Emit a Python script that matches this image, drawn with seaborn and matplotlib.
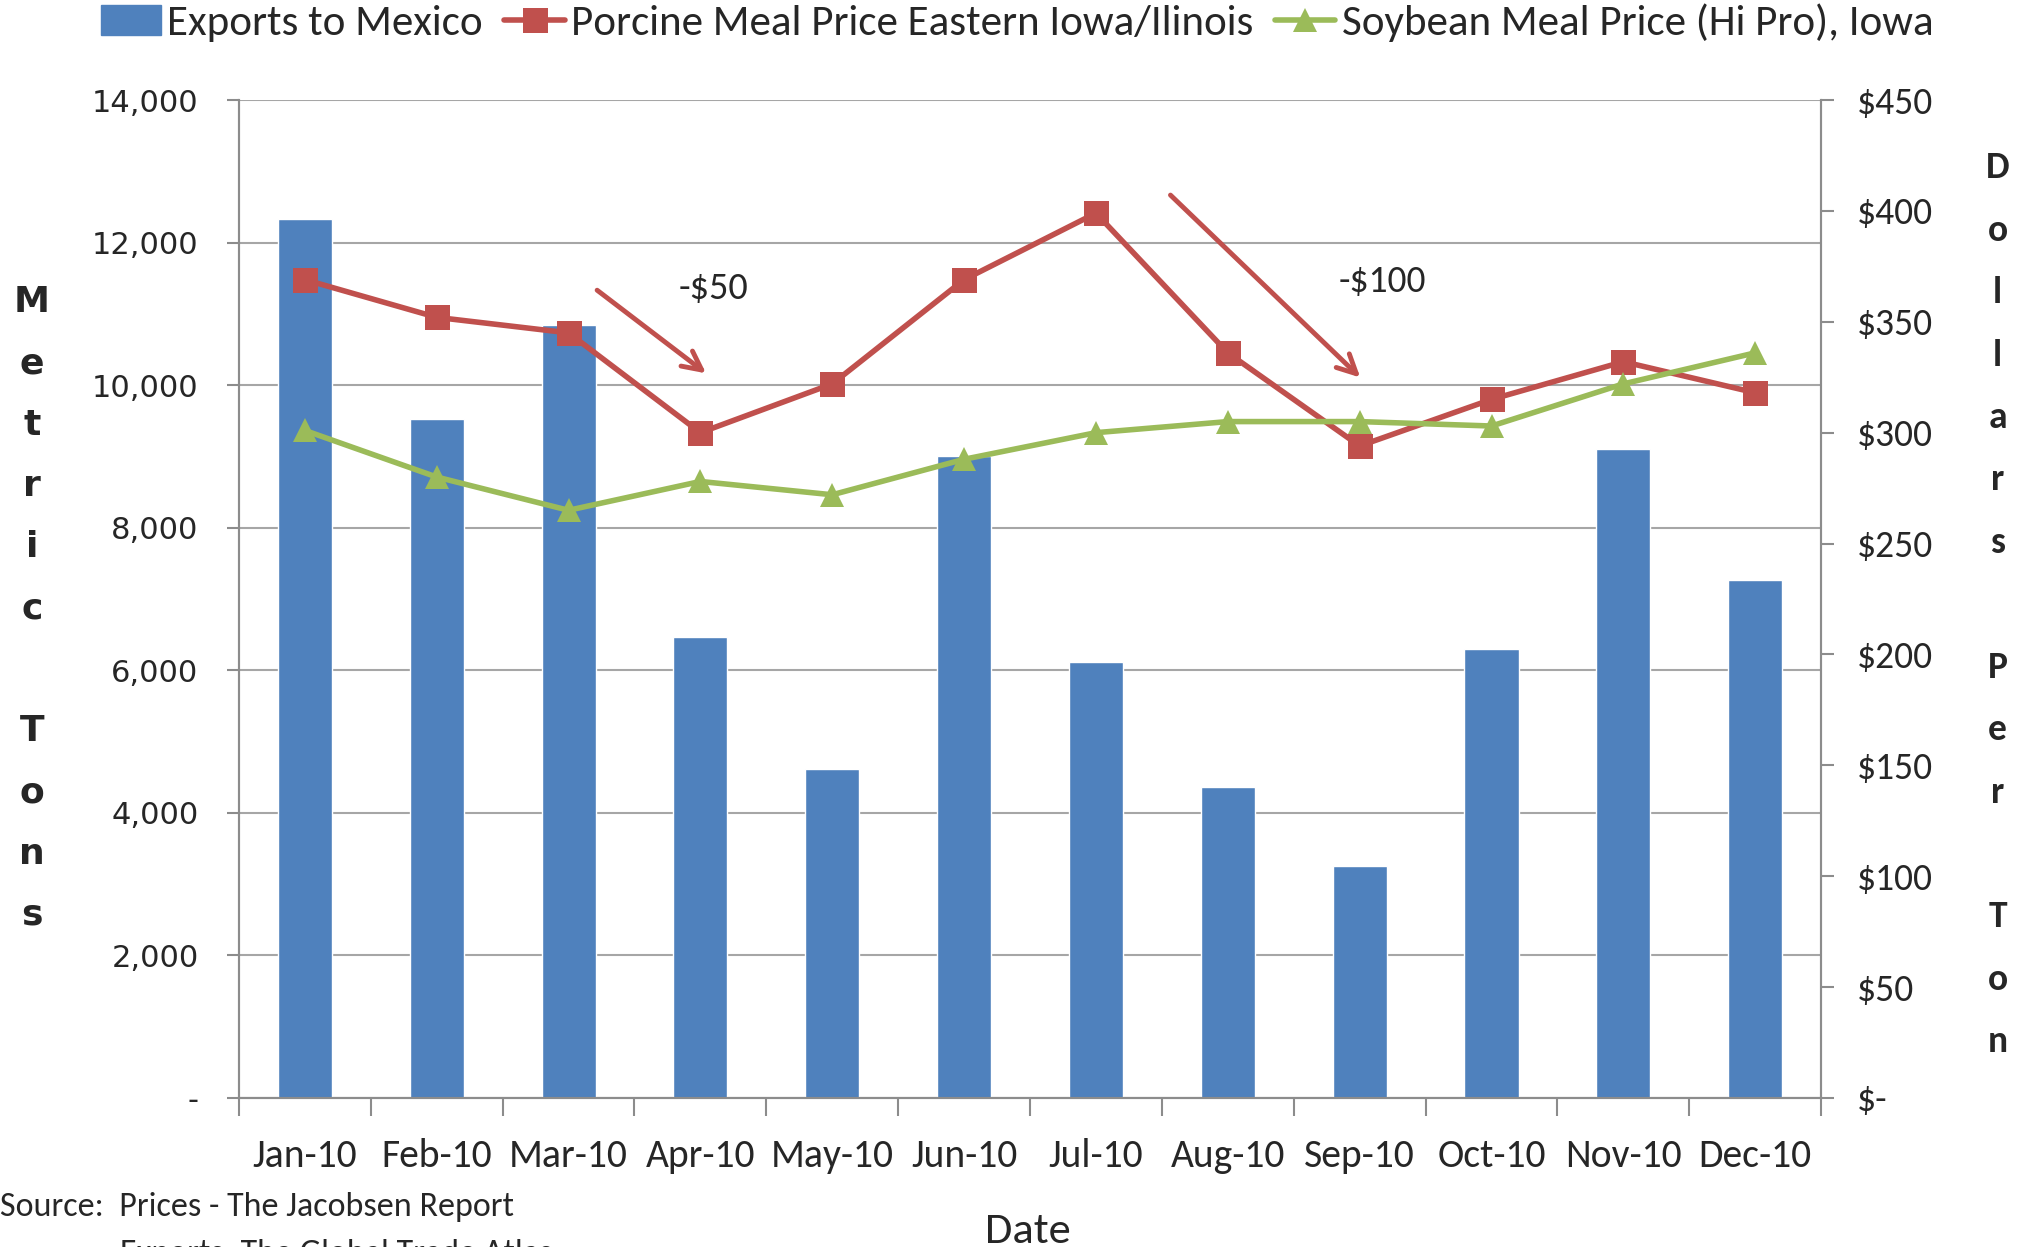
import matplotlib
matplotlib.use("Agg")
import matplotlib.pyplot as plt
from matplotlib import font_manager
from matplotlib.lines import Line2D
from matplotlib.patches import Patch
from matplotlib.ticker import FuncFormatter, FixedLocator
import numpy as np
import pandas as pd
import seaborn as sns

# data
months = ['Jan-10', 'Feb-10', 'Mar-10', 'Apr-10', 'May-10', 'Jun-10',
          'Jul-10', 'Aug-10', 'Sep-10', 'Oct-10', 'Nov-10', 'Dec-10']
exports = [12330, 9520, 10840, 6470, 4620, 9000, 6120, 4360, 3260, 6300, 9110, 7260]
porcine = [369, 352, 345, 300, 322, 369, 399, 336, 294, 315, 332, 318]
soybean = [301, 280, 265, 278, 272, 288, 300, 305, 305, 303, 322, 336]

BLUE = '#4F81BD'
RED = '#C0504D'
GREEN = '#9BBB59'

sns.set_style("white")
have = {f.name for f in font_manager.fontManager.ttflist}
calibri = 'Carlito' if 'Carlito' in have else 'Open Sans'
plt.rcParams['font.family'] = [calibri, 'DejaVu Sans']

df = pd.DataFrame({'month': months, 'exports': exports,
                   'porcine': porcine, 'soybean': soybean})
df['pos'] = np.arange(len(df))

fig = plt.figure(figsize=(20.28, 12.47), dpi=100)
ax = fig.add_axes([0.1178, 0.1195, 0.7802, 0.8003])

sns.barplot(data=df, x='month', y='exports', color=BLUE, saturation=1,
            width=0.41, errorbar=None, ax=ax, zorder=2)
ax.set_ylim(0, 14000)
ax.set_xlim(-0.5, 11.5)
ax.set_yticks(np.arange(0, 14001, 2000))
ax.yaxis.set_major_formatter(FuncFormatter(lambda v, p: '-' if v == 0 else f'{int(v):,}'))
ax.grid(axis='y', color='#A6A6A6', linewidth=1.5, zorder=0)
ax.set_axisbelow(True)
ax.set_xlabel('')
ax.set_ylabel('')
ax.spines['top'].set_visible(False)
for s in ['left', 'bottom', 'right']:
    ax.spines[s].set_color('#8C8C8C')
    ax.spines[s].set_linewidth(1.5)
ax.tick_params(axis='y', which='major', length=9, width=1.5, color='#8C8C8C',
               pad=20, labelsize=22, left=True)
for t in ax.get_yticklabels():
    t.set_fontfamily('DejaVu Sans')
ax.tick_params(axis='x', which='major', length=0, pad=29, labelsize=28.5)
ax.xaxis.set_minor_locator(FixedLocator(np.arange(-0.5, 12, 1)))
ax.tick_params(axis='x', which='minor', length=13, width=1.5, color='#8C8C8C', bottom=True)

ax2 = ax.twinx()
sns.lineplot(data=df, x='pos', y='porcine', ax=ax2, color=RED, linewidth=4,
             marker='s', markersize=18, markeredgewidth=0)
sns.lineplot(data=df, x='pos', y='soybean', ax=ax2, color=GREEN, linewidth=4,
             marker='^', markersize=17, markeredgewidth=0)
ax2.set_ylim(0, 450)
ax2.set_xlim(-0.5, 11.5)
ax2.set_yticks(np.arange(0, 451, 50))
ax2.yaxis.set_major_formatter(FuncFormatter(lambda v, p: '$-' if v == 0 else f'${int(v)}'))
ax2.set_xlabel('')
ax2.set_ylabel('')
ax2.spines['top'].set_visible(False)
for s in ['left', 'bottom', 'right']:
    ax2.spines[s].set_color('#8C8C8C')
    ax2.spines[s].set_linewidth(1.5)
ax2.tick_params(axis='y', length=9, width=1.5, color='#8C8C8C', pad=17,
                labelsize=27, right=True)
ax2.grid(False)

# annotations
arrow = dict(arrowstyle='->', color=RED, lw=3.5, mutation_scale=34)
ax2.annotate('', xy=(3.06, 326), xytext=(2.2, 365), arrowprops=arrow)
ax2.annotate('', xy=(8.02, 324), xytext=(6.55, 408), arrowprops=arrow)
ax2.text(3.1, 365, r'-\$50', fontsize=27.5, ha='center', va='center')
ax2.text(8.17, 368, r'-\$100', fontsize=27, ha='center', va='center')

# stacked axis titles
fig.text(0.0158, 0.512, 'M\ne\nt\nr\ni\nc\n\nT\no\nn\ns', ha='center', va='center',
         fontsize=26, fontweight='bold', family='DejaVu Sans', linespacing=2.01)
fig.text(0.985, 0.515, 'D\no\nl\nl\na\nr\ns\n\nP\ne\nr\n\nT\no\nn', ha='center',
         va='center', fontsize=27, fontweight='semibold', linespacing=2.09)
fig.text(0.507, 0.0125, 'Date', ha='center', va='center', fontsize=32)
fig.text(0.0, 0.032, 'Source:  Prices - The Jacobsen Report', ha='left', va='center',
         fontsize=24.5)
fig.text(0.059, -0.0125, 'Exports: The Global Trade Atlas', ha='left', va='baseline',
         fontsize=24.5)

handles = [Patch(facecolor=BLUE, edgecolor=BLUE),
           Line2D([], [], color=RED, lw=4, marker='s', markersize=18, markeredgewidth=0),
           Line2D([], [], color=GREEN, lw=4, marker='^', markersize=17, markeredgewidth=0)]
labels = ['Exports to Mexico', 'Porcine Meal Price Eastern Iowa/Ilinois',
          'Soybean Meal Price (Hi Pro), Iowa']
fig.legend(handles, labels, loc='center', bbox_to_anchor=(0.5015, 0.9815), ncol=3,
           frameon=False, fontsize=31, handlelength=1.4, handletextpad=0.15,
           columnspacing=0.5, borderaxespad=0)

fig.savefig('out.png', dpi=100)
